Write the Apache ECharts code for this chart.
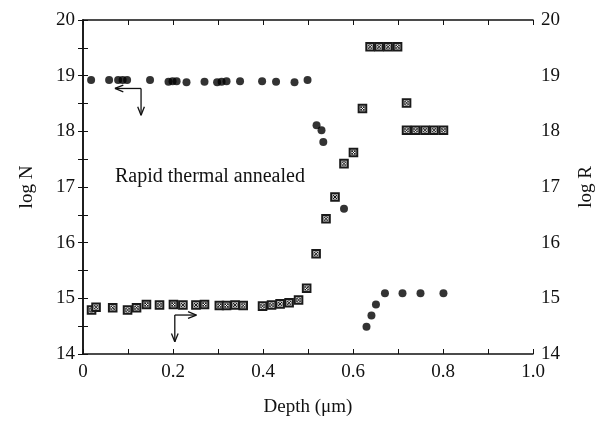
<!DOCTYPE html>
<html>
<head>
<meta charset="utf-8">
<script src="https://cdn.jsdelivr.net/npm/echarts@6/dist/echarts.min.js"></script>
<style>
  html, body { margin: 0; padding: 0; background: #fff; }
  #chart { width: 605px; height: 433px; }
</style>
</head>
<body>
<div id="chart"></div>
<script>
// log N (filled dots)
const nDepth = [0.018, 0.058, 0.078, 0.088, 0.098, 0.149, 0.190, 0.199, 0.208, 0.230,
  0.270, 0.298, 0.308, 0.319, 0.349, 0.398, 0.429, 0.470, 0.499,
  0.519, 0.530, 0.534, 0.580, 0.630, 0.641, 0.651, 0.671, 0.710, 0.750, 0.801];
const nValue = [18.92, 18.92, 18.92, 18.92, 18.92, 18.92, 18.89, 18.90, 18.90, 18.88,
  18.89, 18.88, 18.89, 18.90, 18.90, 18.90, 18.89, 18.88, 18.92,
  18.11, 18.02, 17.81, 16.61, 14.49, 14.69, 14.89, 15.09, 15.09, 15.09, 15.09];

// log R (crossed squares)
const rDepth = [0.019, 0.029, 0.066, 0.099, 0.119, 0.141, 0.170, 0.201, 0.222, 0.251,
  0.270, 0.303, 0.319, 0.338, 0.356, 0.399, 0.419, 0.438, 0.458, 0.479,
  0.497, 0.518, 0.540, 0.560, 0.580, 0.601, 0.621, 0.638, 0.658, 0.678,
  0.699, 0.719, 0.719, 0.739, 0.760, 0.780, 0.801];
const rValue = [14.79, 14.84, 14.83, 14.79, 14.83, 14.89, 14.88, 14.89, 14.88, 14.88,
  14.89, 14.87, 14.87, 14.88, 14.87, 14.86, 14.88, 14.90, 14.92, 14.97,
  15.18, 15.80, 16.43, 16.82, 17.42, 17.62, 18.41, 19.52, 19.52, 19.52,
  19.52, 18.51, 18.02, 18.02, 18.02, 18.02, 18.02];

// arrows: [x1, y1, x2, y2] with head at the second point
const arrows = [
  [0.129, 18.77, 0.071, 18.77],
  [0.129, 18.77, 0.129, 18.29],
  [0.204, 14.70, 0.252, 14.70],
  [0.204, 14.70, 0.204, 14.22]
];

const xTicks = { min: 0, max: 1, interval: 0.2 };
const yTicks = { min: 14, max: 20, interval: 1 };

const font = 'Liberation Serif';
const ink = '#111';

const chart = echarts.init(document.getElementById('chart'), null, { renderer: 'canvas' });

const tickCommon = {
  axisLine: { show: true, lineStyle: { color: ink, width: 1.5 } },
  axisTick: { show: true, inside: true, length: 5, lineStyle: { color: ink, width: 1 } },
  minorTick: { show: true, splitNumber: 2, length: 5, lineStyle: { color: ink, width: 1 } },
  splitLine: { show: false }
};

const xAxisBase = (pos, labels) => ({
  type: 'value',
  position: pos,
  min: xTicks.min, max: xTicks.max, interval: xTicks.interval,
  ...tickCommon,
  axisLabel: {
    show: labels, color: ink, fontFamily: font, fontSize: 19, margin: 9,
    formatter: (v) => (v === 0 ? '0' : v.toFixed(1))
  }
});

const yAxisBase = (pos, name, gap) => ({
  type: 'value',
  position: pos,
  min: yTicks.min, max: yTicks.max, interval: yTicks.interval,
  ...tickCommon,
  name: name,
  nameLocation: 'middle',
  nameGap: gap,
  nameRotate: 90,
  nameTextStyle: { color: ink, fontFamily: font, fontSize: 19 },
  axisLabel: { color: ink, fontFamily: font, fontSize: 19, margin: 8 }
});

const option = {
  backgroundColor: '#fff',
  animation: false,
  grid: { left: 83, right: 72, top: 20, bottom: 79, containLabel: false },
  xAxis: [
    {
      ...xAxisBase('bottom', true),
      name: 'Depth (\u03bcm)',
      nameLocation: 'middle',
      nameGap: 44,
      nameTextStyle: { color: ink, fontFamily: font, fontSize: 19 }
    },
    xAxisBase('top', false)
  ],
  yAxis: [
    yAxisBase('left', 'log N', 46),
    yAxisBase('right', 'log R', 44)
  ],
  graphic: [
    {
      type: 'text',
      left: 115,
      top: 167,
      style: { text: 'Rapid thermal annealed', fill: ink, font: '20px "Liberation Serif"' }
    }
  ],
  series: [
    {
      name: 'log N',
      type: 'scatter',
      xAxisIndex: 0,
      yAxisIndex: 0,
      symbol: 'circle',
      symbolSize: 8,
      itemStyle: { color: '#000' },
      data: nDepth.map((d, i) => [d, nValue[i]])
    },
    {
      name: 'log R',
      type: 'custom',
      xAxisIndex: 0,
      yAxisIndex: 1,
      encode: { x: 0, y: 1 },
      data: rDepth.map((d, i) => [d, rValue[i]]),
      renderItem: (params, api) => {
        const p = api.coord([api.value(0), api.value(1)]);
        const h = 3.8;
        return {
          type: 'group',
          children: [
            {
              type: 'rect',
              shape: { x: p[0] - h, y: p[1] - h, width: 2 * h, height: 2 * h },
              style: { fill: '#e8e8e8', stroke: '#1a1a1a', lineWidth: 2 }
            },
            {
              type: 'circle',
              shape: { cx: p[0], cy: p[1], r: 2.3 },
              style: { fill: '#fff', stroke: '#333', lineWidth: 0.8 }
            },
            {
              type: 'line',
              shape: { x1: p[0] - 2, y1: p[1] - 2, x2: p[0] + 2, y2: p[1] + 2 },
              style: { stroke: '#111', lineWidth: 1 }
            },
            {
              type: 'line',
              shape: { x1: p[0] - 2, y1: p[1] + 2, x2: p[0] + 2, y2: p[1] - 2 },
              style: { stroke: '#111', lineWidth: 1 }
            }
          ]
        };
      }
    },
    {
      name: 'arrows',
      type: 'custom',
      xAxisIndex: 0,
      yAxisIndex: 0,
      encode: { x: [0, 2], y: [1, 3] },
      data: arrows,
      renderItem: (params, api) => {
        const a = api.coord([api.value(0), api.value(1)]);
        const b = api.coord([api.value(2), api.value(3)]);
        const ang = Math.atan2(b[1] - a[1], b[0] - a[0]);
        const L = 9, spread = 0.38;
        const barb = (s) => ({
          type: 'line',
          shape: {
            x1: b[0], y1: b[1],
            x2: b[0] - L * Math.cos(ang + s), y2: b[1] - L * Math.sin(ang + s)
          },
          style: { stroke: ink, lineWidth: 1.3 }
        });
        return {
          type: 'group',
          children: [
            {
              type: 'line',
              shape: { x1: a[0], y1: a[1], x2: b[0], y2: b[1] },
              style: { stroke: ink, lineWidth: 1.3 }
            },
            barb(spread),
            barb(-spread)
          ]
        };
      }
    }
  ]
};

chart.setOption(option);
</script>
</body>
</html>
